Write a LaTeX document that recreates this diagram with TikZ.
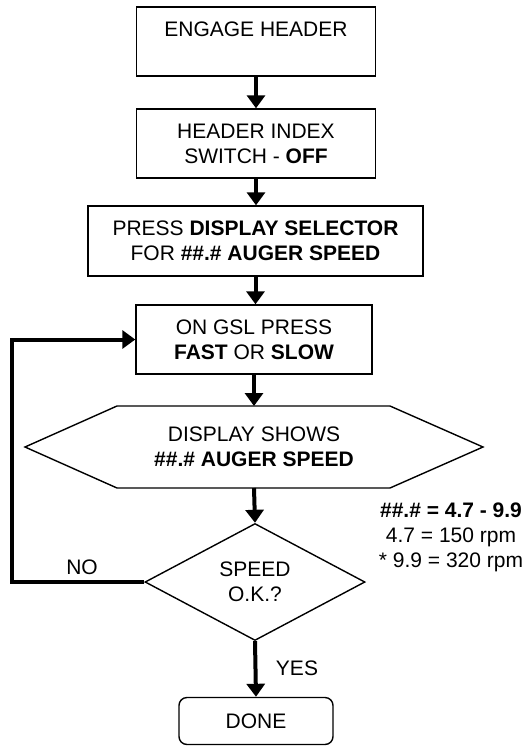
\documentclass[tikz,border=0pt]{standalone}
\usepackage{fontspec}
\setmainfont{Liberation Sans}
\usetikzlibrary{shapes.geometric,arrows.meta,calc}

\begin{document}
\begin{tikzpicture}[
  % --- one unit = one pixel of the reference
  x=0.5pt, y=-0.5pt,
  font=\fontsize{10.5}{12.5}\selectfont,
  % --- process boxes
  stepbox/.style={draw, line width=0.7pt, align=center,
    minimum width=119.5pt, minimum height=34.5pt, inner sep=2pt},
  widebox/.style={stepbox, minimum width=167.5pt, minimum height=35pt},
  % --- decision and end
  testbox/.style={draw, diamond, line width=0.7pt, align=center,
    minimum width=110pt, minimum height=58.5pt, inner sep=0pt},
  endbox/.style={draw, rounded corners=4pt, line width=0.7pt,
    minimum width=77pt, minimum height=23.5pt},
  % --- thick connectors
  flow/.style={line width=2pt, -{Triangle[width=9pt,length=6.5pt]}},
]
\useasboundingbox (0,0) rectangle (528,746);

%========================
% Main column
%========================
\node[stepbox] (engage) at (256,41.5) {ENGAGE HEADER\\~};
\node[stepbox] (index) at (256,143.5) {HEADER INDEX\\SWITCH - \textbf{OFF}};
\node[widebox] (select) at (255.5,241) {PRESS \textbf{DISPLAY SELECTOR}\\FOR \textbf{\#\#.\# AUGER SPEED}};
\node[stepbox, minimum width=118pt] (gsl) at (254,339.5) {ON GSL PRESS\\\textbf{FAST} OR \textbf{SLOW}};

% display hexagon
\node[align=center] (shows) at (254,447) {DISPLAY SHOWS\\\textbf{\#\#.\# AUGER SPEED}};
\coordinate (hexT) at (254,406);
\coordinate (hexB) at (254,488);
\draw[line width=0.7pt] (25,447) -- (117,406) -- (390,406) -- (483,447)
  -- (390,488) -- (117,488) -- cycle;

\node[testbox] (ok) at (255,582) {SPEED\\O.K.?};
\node[endbox] (done) at (256,721) {DONE};

% notes beside the check
\node[align=center] (range) at (451,537)
  {\textbf{\#\#.\# = 4.7 - 9.9}\\4.7 = 150 rpm\\* 9.9 = 320 rpm};

%========================
% Connectors
%========================
\draw[flow] (engage.south) -- (engage.south |- index.north);
\draw[flow] (index.south) -- (index.south |- select.north);
\draw[flow] (select.south) -- (select.south |- gsl.north);
\draw[flow] (gsl.south) -- (hexT);
\draw[flow] (hexB) -- (ok.north);
\draw[flow] (ok.south) -- (done.north);

% loop back
\coordinate (back) at (12,582);
\draw[flow] (ok.west) -- (back) |- (gsl.west);

\node (no) at (82,567) {NO};
\node (yes) at (297,668) {YES};

\end{tikzpicture}
\end{document}
